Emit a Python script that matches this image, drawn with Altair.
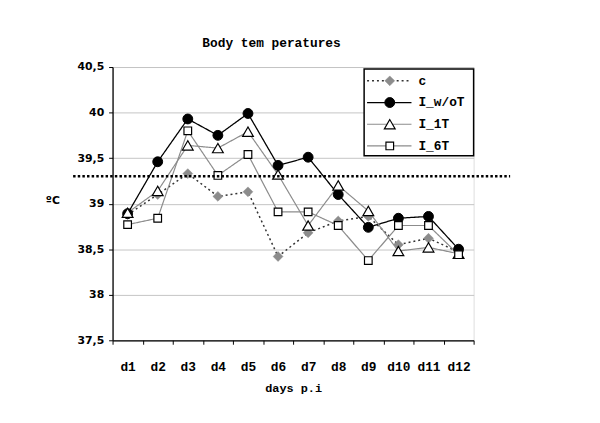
import altair as alt
import pandas as pd

days = ["d1", "d2", "d3", "d4", "d5", "d6", "d7", "d8", "d9", "d10", "d11", "d12"]
series_names = ["c", "I_w/oT", "I_1T", "I_6T"]
c_vals = [38.88, 39.10, 39.33, 39.08, 39.13, 38.42, 38.68, 38.81, 38.86, 38.55, 38.62, 38.47]
iwot_vals = [38.89, 39.46, 39.93, 39.75, 39.99, 39.42, 39.51, 39.10, 38.74, 38.84, 38.86, 38.50]
i1t_vals = [38.90, 39.14, 39.64, 39.61, 39.79, 39.32, 38.76, 39.20, 38.92, 38.48, 38.52, 38.45]
i6t_vals = [38.77, 38.84, 39.80, 39.31, 39.54, 38.91, 38.91, 38.76, 38.375, 38.76, 38.76, 38.44]
threshold = [39.3]
y_ticks = [37.5, 38.0, 38.5, 39.0, 39.5, 40.0, 40.5]

values_by_series = dict(zip(series_names, [c_vals, iwot_vals, i1t_vals, i6t_vals]))

styles = {
    "c": dict(line="#333333", dash=[2, 3], lw=1.5, shape="diamond", size=100, fill="#8c8c8c", stroke="#8c8c8c", sw=0.5),
    "I_w/oT": dict(line="#000000", dash=[1, 0], lw=1.3, shape="circle", size=100, fill="#000000", stroke="#000000", sw=1),
    "I_1T": dict(line="#8c8c8c", dash=[1, 0], lw=1.2, shape="triangle-up", size=120, fill="#ffffff", stroke="#000000", sw=1.2),
    "I_6T": dict(line="#8c8c8c", dash=[1, 0], lw=1.2, shape="square", size=60, fill="#ffffff", stroke="#000000", sw=1.2),
}

MONO = "Liberation Mono"
SANS = "DejaVu Sans"

rows = []
for s in series_names:
    for d, v in zip(days, values_by_series[s]):
        rows.append({"series": s, "day": d, "value": v})
df = pd.DataFrame(rows)

x_enc = alt.X(
    "day:O", sort=days, bandPosition=0.5,
    scale=alt.Scale(type="band", domain=days, paddingInner=0, paddingOuter=0),
    axis=alt.Axis(title="days p.i", tickBand="extent", labelAngle=0,
                  labelFont=MONO, labelFontWeight="bold", labelFontSize=13, labelColor="black",
                  labelPadding=17, tickSize=4, tickColor="black", domainColor="black",
                  domainWidth=1.3, titleFont=MONO, titleFontWeight="bold", titleFontSize=12,
                  titleColor="black", titlePadding=9, grid=False),
)
y_enc = alt.Y(
    "value:Q",
    scale=alt.Scale(domain=[37.5, 40.5], nice=False, zero=False),
    axis=alt.Axis(values=y_ticks, title="ºC", titleAngle=0, titleX=-61, titleY=135,
                  titleAlign="center", titleBaseline="middle", titleFont=SANS,
                  titleFontWeight="bold", titleFontSize=11, titleColor="black",
                  labelExpr="datum.value % 1 == 0 ? format(datum.value, 'd') : replace(format(datum.value, '.1f'), '.', ',')",
                  labelFont=SANS, labelFontWeight="bold", labelFontSize=11, labelColor="black",
                  labelPadding=5, tickSize=4, tickColor="black", domainColor="black", domainWidth=1.3,
                  grid=True, gridColor="#c4c4c4", gridWidth=1),
)

base = alt.Chart(df)
layers = []
for s in series_names:
    st = styles[s]
    sub = base.transform_filter(alt.datum.series == s)
    line = sub.mark_line(color=st["line"], strokeDash=st["dash"], strokeWidth=st["lw"]).encode(x=x_enc, y=y_enc)
    layers.append(line)
for s in series_names:
    st = styles[s]
    sub = base.transform_filter(alt.datum.series == s)
    pts = sub.mark_point(shape=st["shape"], size=st["size"], fill=st["fill"], stroke=st["stroke"],
                         strokeWidth=st["sw"], opacity=1, fillOpacity=1).encode(x=x_enc, y=y_enc)
    layers.append(pts)

thr_df = pd.DataFrame({"value": threshold})
rule = alt.Chart(thr_df).mark_rule(color="black", strokeDash=[2.5, 2.2], strokeWidth=2.6).encode(
    y=alt.Y("value:Q"), x=alt.value(-40), x2=alt.value(403))

# legend
leg_rows = []
for i, s in enumerate(series_names):
    st = styles[s]
    leg_rows.append({"series": s, "py": 14 + 22 * i, "line": st["line"], "dash": st["dash"],
                     "lw": st["lw"], "shape": st["shape"], "size": st["size"], "fill": st["fill"],
                     "stroke": st["stroke"], "sw": st["sw"]})
leg_df = pd.DataFrame(leg_rows)
leg_base = alt.Chart(leg_df)
leg_box = alt.Chart(thr_df).mark_rect(fill="white", stroke="black", strokeWidth=1.5).encode(
    x=alt.value(255), x2=alt.value(366), y=alt.value(2), y2=alt.value(90))
leg_py = alt.Y("py:Q", scale=None)
leg_line = leg_base.mark_rule().encode(
    x=alt.value(258), x2=alt.value(303), y=leg_py,
    stroke=alt.Stroke("line:N", scale=None),
    strokeDash=alt.StrokeDash("dash", scale=None),
    strokeWidth=alt.StrokeWidth("lw:Q", scale=None),
)
leg_pts = leg_base.mark_point(opacity=1, fillOpacity=1).encode(
    x=alt.value(281), y=leg_py,
    shape=alt.Shape("shape:N", scale=None),
    size=alt.Size("size:Q", scale=None),
    fill=alt.Fill("fill:N", scale=None),
    stroke=alt.Stroke("stroke:N", scale=None),
    strokeWidth=alt.StrokeWidth("sw:Q", scale=None),
)
leg_txt = leg_base.mark_text(align="left", baseline="middle", font=MONO, fontWeight="bold",
                             fontSize=13, color="black").encode(
    x=alt.value(310), y=leg_py, text="series:N")

chart = alt.layer(*layers, rule, leg_box, leg_line, leg_pts, leg_txt).properties(
    width=366, height=277,
    autosize=alt.AutoSizeParams(type="none"),
    padding={"left": 106, "top": 57, "right": 120, "bottom": 81},
    title=alt.TitleParams("Body tem peratures", anchor="start", frame="group", dx=91, offset=11,
                          font=MONO, fontWeight="bold", fontSize=13, color="black"),
).configure_view(stroke="#a0a0a0", strokeWidth=1.3).configure(background="white")

chart.save("out.html", embed_options={"renderer": "svg", "actions": False})
